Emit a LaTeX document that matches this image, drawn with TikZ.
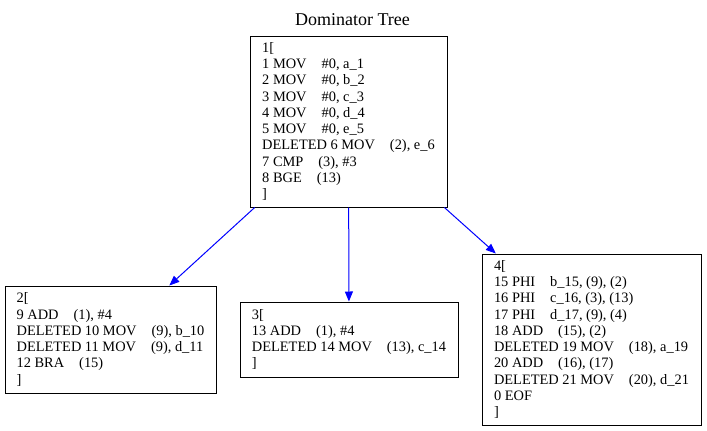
\documentclass[tikz,border=0pt]{standalone}
\usepackage{fontspec}
\setmainfont{Liberation Serif}
\usetikzlibrary{arrows.meta}
\newcommand{\gp}{\hspace{15pt}}
\tikzset{
  blk/.style={draw=black, line width=1pt, align=left, inner sep=0pt,
    font=\fontsize{14.4}{16.3}\selectfont},
  edg/.style={draw=blue, line width=1pt, -{Triangle[length=10pt,width=8pt]}}
}
\begin{document}
\begin{tikzpicture}[x=1pt,y=-1pt]
\useasboundingbox (0,0) rectangle (707,431);
\node[font=\fontsize{18}{20}\selectfont] (title) at (352.5,20) {Dominator Tree};
\node[blk, minimum width=197pt, minimum height=171pt] (n1) at (348.5,121.5)
 {1[\\
  1 MOV\gp\#0, a\_1\\
  2 MOV\gp\#0, b\_2\\
  3 MOV\gp\#0, c\_3\\
  4 MOV\gp\#0, d\_4\\
  5 MOV\gp\#0, e\_5\\
  DELETED 6 MOV\gp(2), e\_6\\
  7 CMP\gp(3), \#3\\
  8 BGE\gp(13)\\
  ]};
\node[blk, minimum width=211pt, minimum height=107pt] (n2) at (110.5,339.5)
 {2[\\
  9 ADD\gp(1), \#4\\
  DELETED 10 MOV\gp(9), b\_10\\
  DELETED 11 MOV\gp(9), d\_11\\
  12 BRA\gp(15)\\
  ]};
\node[blk, minimum width=218pt, minimum height=75pt] (n3) at (349,339.5)
 {3[\\
  13 ADD\gp(1), \#4\\
  DELETED 14 MOV\gp(13), c\_14\\
  ]};
\node[blk, minimum width=219pt, minimum height=171pt] (n4) at (591.5,339.5)
 {4[\\
  15 PHI\gp b\_15, (9), (2)\\
  16 PHI\gp c\_16, (3), (13)\\
  17 PHI\gp d\_17, (9), (4)\\
  18 ADD\gp(15), (2)\\
  DELETED 19 MOV\gp(18), a\_19\\
  20 ADD\gp(16), (17)\\
  DELETED 21 MOV\gp(20), d\_21\\
  0 EOF\\
  ]};
\draw[edg] (n1) -- (n2);
\draw[edg] (n1) -- (n3);
\draw[edg] (n1) -- (n4);
\end{tikzpicture}
\end{document}
